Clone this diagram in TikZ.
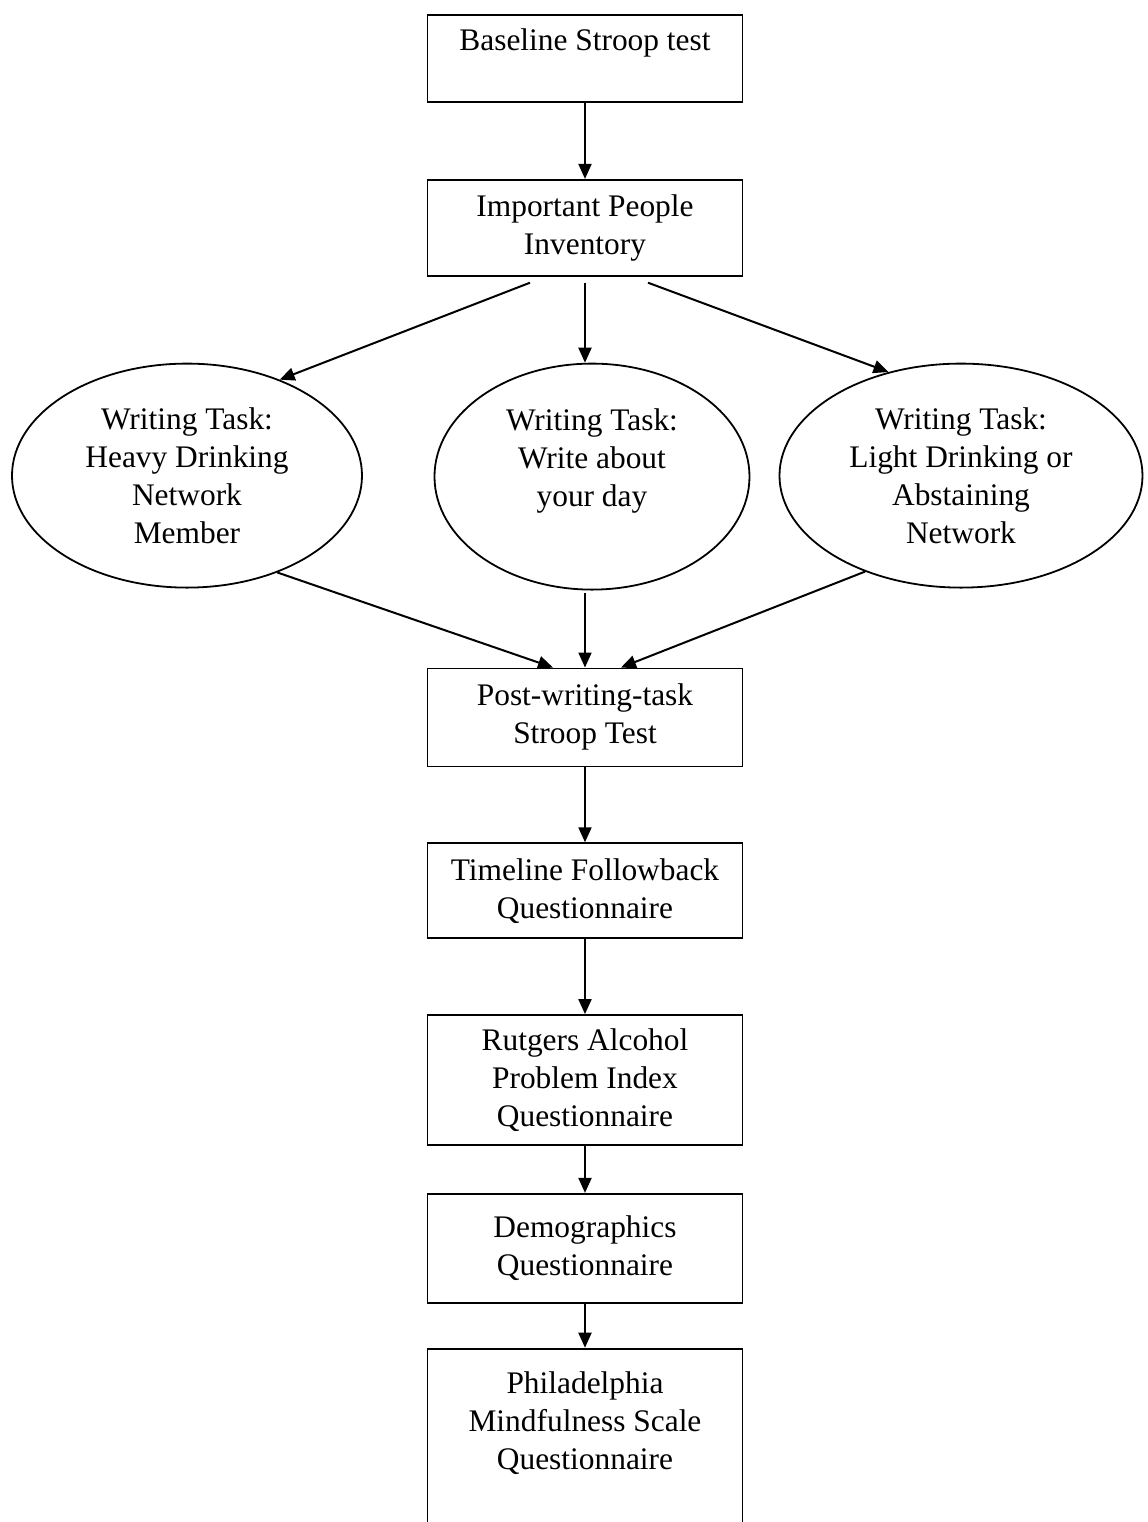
\documentclass[tikz,border=0pt]{standalone}
\usepackage{fontspec}
\setmainfont{Liberation Serif}
\usetikzlibrary{shapes.geometric, arrows.meta, positioning}

\begin{document}
\begin{tikzpicture}[
    stage/.style={rectangle, draw, minimum width=157.5pt, line width=0.9pt, align=center, font=\fontsize{15.7}{19}\selectfont},
    task/.style={ellipse, draw, inner sep=0pt, line width=0.9pt, align=center, font=\fontsize{15.7}{19}\selectfont},
    arrow/.style={draw, -{Triangle[length=7.5pt, width=6.5pt]}, line width=1pt}
]
\useasboundingbox (-292.5pt,29.25pt) rectangle (281pt,-731.75pt);

% Stages
\node[stage, minimum height=43.5pt] (baseline) {Baseline Stroop test\\\mbox{}};
\node[stage, minimum height=48pt, below=38pt of baseline] (ipi) {Important People\\Inventory};

% Writing tasks
\node[task, minimum width=157.5pt, minimum height=113pt, below=43pt of ipi, xshift=3.5pt] (day) {Writing Task:\\Write about\\your day\\\mbox{}};
\node[task, minimum width=175pt, minimum height=112pt, below=43pt of ipi, xshift=-199pt] (heavy) {Writing Task:\\Heavy Drinking\\Network\\Member};
\node[task, minimum width=181.5pt, minimum height=112pt, below=43pt of ipi, xshift=188pt] (light) {Writing Task:\\Light Drinking or\\Abstaining\\Network};

% Questionnaires
\node[stage, minimum height=49pt, below=38.5pt of day.south -| ipi.south] (post) {Post-writing-task\\Stroop Test};
\node[stage, minimum height=47.5pt, below=37.5pt of post] (tlfb) {Timeline Followback\\Questionnaire};
\node[stage, minimum height=65pt, below=37.5pt of tlfb] (rapi) {Rutgers Alcohol\\Problem Index\\Questionnaire};
\node[stage, minimum height=54.5pt, below=23.5pt of rapi] (demo) {Demographics\\Questionnaire};
\node[stage, minimum height=110pt, below=22pt of demo] (pms) {Philadelphia\\Mindfulness Scale\\Questionnaire\\\mbox{}\\\mbox{}};

% Connectors
\draw[arrow] (baseline) -- (ipi);
\draw[arrow] ([xshift=-27.5pt, yshift=-3pt]ipi.south) -- (heavy.46);
\draw[arrow] ([yshift=-3pt]ipi.south) -- (ipi.south |- day.north);
\draw[arrow] ([xshift=31.5pt, yshift=-3pt]ipi.south) -- (light.125);
\draw[arrow] (heavy.-47) -- ([xshift=-16pt]post.north);
\draw[arrow] ([yshift=-1pt]post.north |- day.south) -- (post.north);
\draw[arrow] (light.-135) -- ([xshift=18pt]post.north);
\draw[arrow] (post) -- (tlfb);
\draw[arrow] (tlfb) -- (rapi);
\draw[arrow] (rapi) -- (demo);
\draw[arrow] (demo) -- (pms);

\end{tikzpicture}
\end{document}
